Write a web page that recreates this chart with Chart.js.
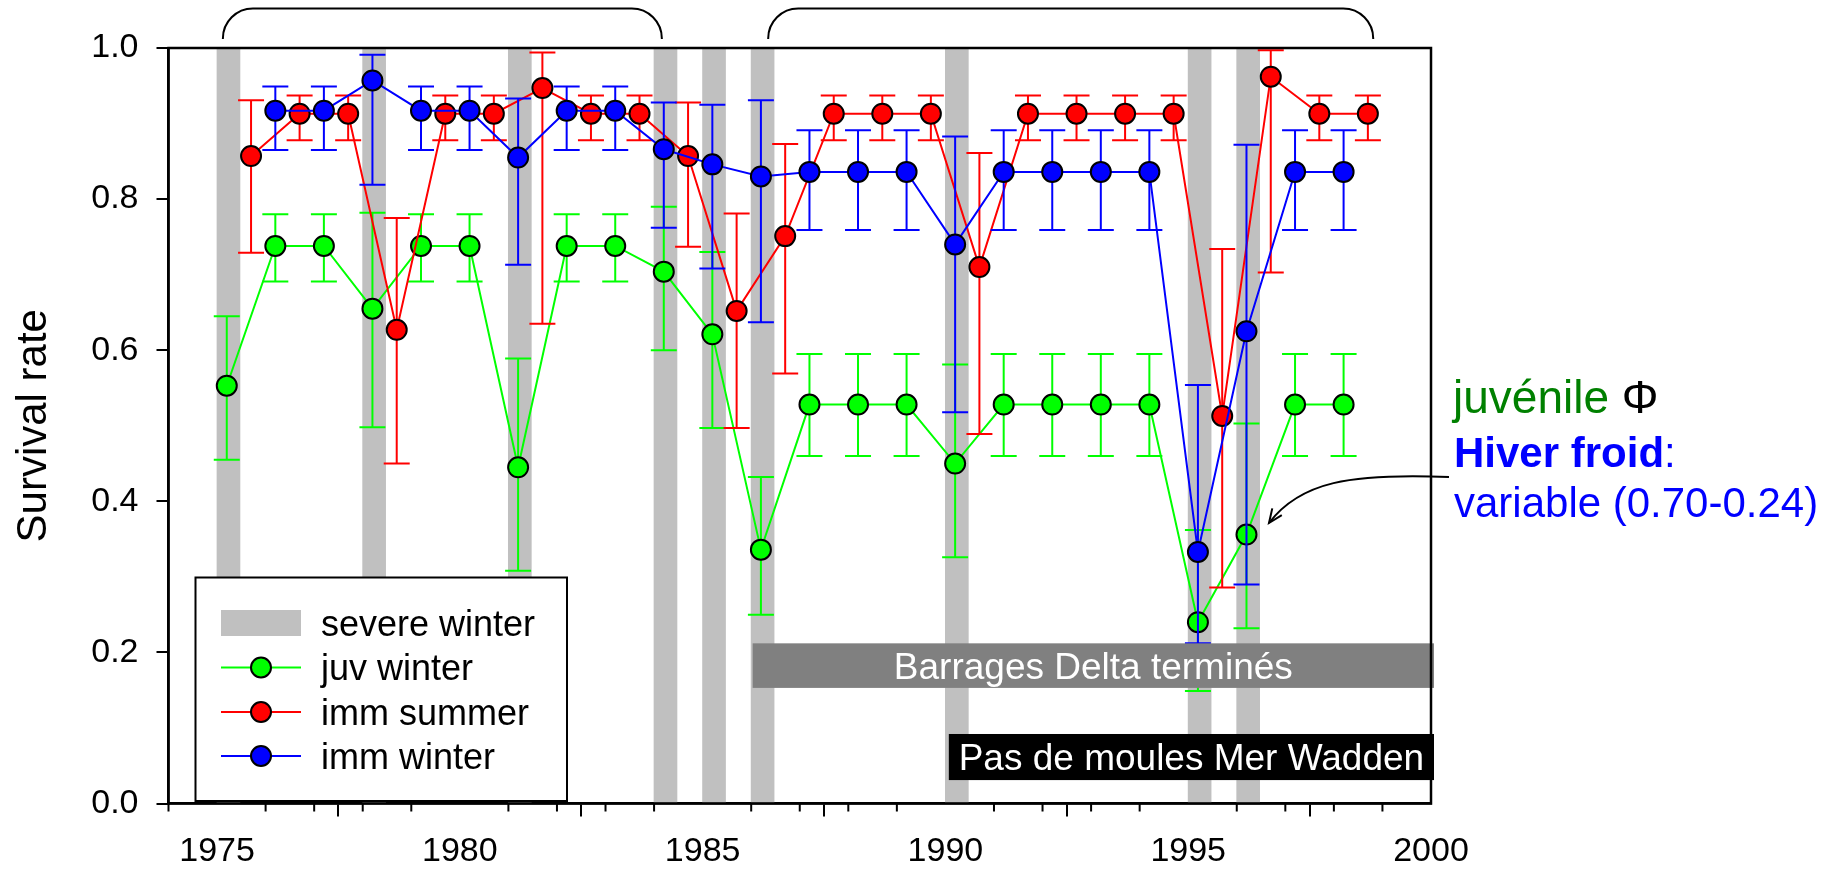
<!DOCTYPE html>
<html lang="fr">
<head>
  <meta charset="UTF-8">
  <title>Survival rate</title>
  <script src="https://cdn.jsdelivr.net/npm/chart.js"></script>
  <style>
   html, body { margin: 0; padding: 0; background: #fff; overflow: hidden; }
   #wrap { width: 1838px; height: 879px; }
  </style>
</head>
<body>
  <div id="wrap"><canvas id="myChart" width="1838" height="879"></canvas></div>
  <script>
    // --- data ---
    const juvYears = [1975.2, 1976.2, 1977.2, 1978.2, 1979.2, 1980.2, 1981.2, 1982.2, 1983.2, 1984.2, 1985.2, 1986.2,
                      1987.2, 1988.2, 1989.2, 1990.2, 1991.2, 1992.2, 1993.2, 1994.2, 1995.2, 1996.2, 1997.2, 1998.2];
    const juvWinter   = [0.553, 0.738, 0.738, 0.655, 0.738, 0.738, 0.445, 0.738, 0.738, 0.704, 0.621, 0.336,
                         0.528, 0.528, 0.528, 0.450, 0.528, 0.528, 0.528, 0.528, 0.240, 0.356, 0.528, 0.528];
    const juvWinterHi = [0.645, 0.780, 0.780, 0.782, 0.780, 0.780, 0.589, 0.780, 0.780, 0.790, 0.730, 0.432,
                         0.595, 0.595, 0.595, 0.581, 0.595, 0.595, 0.595, 0.595, 0.362, 0.503, 0.595, 0.595];
    const juvWinterLo = [0.455, 0.691, 0.691, 0.498, 0.691, 0.691, 0.308, 0.691, 0.691, 0.600, 0.497, 0.250,
                         0.460, 0.460, 0.460, 0.326, 0.460, 0.460, 0.460, 0.460, 0.149, 0.232, 0.460, 0.460];

    const summerYears = [1975.7, 1976.7, 1977.7, 1978.7, 1979.7, 1980.7, 1981.7, 1982.7, 1983.7, 1984.7, 1985.7, 1986.7,
                         1987.7, 1988.7, 1989.7, 1990.7, 1991.7, 1992.7, 1993.7, 1994.7, 1995.7, 1996.7, 1997.7, 1998.7];
    const immSummer   = [0.857, 0.913, 0.913, 0.627, 0.913, 0.913, 0.947, 0.913, 0.913, 0.857, 0.652, 0.751,
                         0.913, 0.913, 0.913, 0.710, 0.913, 0.913, 0.913, 0.913, 0.513, 0.962, 0.913, 0.913];
    const immSummerHi = [0.931, 0.937, 0.937, 0.775, 0.937, 0.937, 0.994, 0.937, 0.937, 0.928, 0.781, 0.873,
                         0.937, 0.937, 0.937, 0.861, 0.937, 0.937, 0.937, 0.937, 0.734, 0.997, 0.937, 0.937];
    const immSummerLo = [0.729, 0.878, 0.878, 0.450, 0.878, 0.878, 0.635, 0.878, 0.878, 0.737, 0.497, 0.569,
                         0.878, 0.878, 0.878, 0.489, 0.878, 0.878, 0.878, 0.878, 0.286, 0.703, 0.878, 0.878];

    const immWinYears = [1976.2, 1977.2, 1978.2, 1979.2, 1980.2, 1981.2, 1982.2, 1983.2, 1984.2, 1985.2, 1986.2,
                         1987.2, 1988.2, 1989.2, 1990.2, 1991.2, 1992.2, 1993.2, 1994.2, 1995.2, 1996.2, 1997.2, 1998.2];
    const immWinter   = [0.917, 0.917, 0.957, 0.917, 0.917, 0.855, 0.917, 0.917, 0.866, 0.846, 0.830,
                         0.836, 0.836, 0.836, 0.740, 0.836, 0.836, 0.836, 0.836, 0.333, 0.625, 0.836, 0.836];
    const immWinterHi = [0.949, 0.949, 0.991, 0.949, 0.949, 0.933, 0.949, 0.949, 0.928, 0.925, 0.931,
                         0.891, 0.891, 0.891, 0.883, 0.891, 0.891, 0.891, 0.891, 0.554, 0.872, 0.891, 0.891];
    const immWinterLo = [0.865, 0.865, 0.819, 0.865, 0.865, 0.713, 0.865, 0.865, 0.762, 0.708, 0.637,
                         0.759, 0.759, 0.759, 0.518, 0.759, 0.759, 0.759, 0.759, 0.212, 0.290, 0.759, 0.759];

    const severeWinters = [1975, 1978, 1981, 1984, 1985, 1986, 1990, 1995, 1996];
    const xTicks = [1975, 1980, 1985, 1990, 1995, 2000];
    const yTicks = [0.0, 0.2, 0.4, 0.6, 0.8, 1.0];

    // --- look ---
    const FONT = "'Liberation Sans', Arial, sans-serif";
    const GREEN = '#00ff00', RED = '#ff0000', BLUE = '#0000ff', WINTER = '#c0c0c0';

    function pts(xs, ys) { return xs.map((x, i) => ({ x: x, y: ys[i] })); }

    // error bars, drawn under each series' own line and symbols
    const errorBars = {
      id: 'errorBars',
      beforeDatasetDraw(chart, args) {
        const ds = chart.data.datasets[args.index];
        if (!ds.hi) return;
        const xs = chart.scales.x, ys = chart.scales.y, c = chart.ctx;
        c.save(); c.strokeStyle = ds.borderColor; c.lineWidth = 2;
        ds.data.forEach((p, i) => {
          const px = xs.getPixelForValue(p.x), t = ys.getPixelForValue(ds.hi[i]), b = ys.getPixelForValue(ds.lo[i]);
          c.beginPath();
          c.moveTo(px, t); c.lineTo(px, b);
          c.moveTo(px - 13, t); c.lineTo(px + 13, t);
          c.moveTo(px - 13, b); c.lineTo(px + 13, b);
          c.stroke();
        });
        c.restore();
      }
    };

    // labelled boxes, legend, frame, braces, side notes
    const extras = {
      id: 'extras',
      afterDatasetsDraw(chart) {
        const c = chart.ctx, xs = chart.scales.x, ys = chart.scales.y, a = chart.chartArea;
        function box(x0, v0, v1, fill, text) {
          const l = xs.getPixelForValue(x0), r = a.right + 3, t = ys.getPixelForValue(v0), b = ys.getPixelForValue(v1);
          c.fillStyle = fill; c.fillRect(l, t, r - l, b - t);
          c.fillStyle = '#fff'; c.font = '37px ' + FONT; c.textAlign = 'center'; c.textBaseline = 'alphabetic';
          c.fillText(text, (l + r) / 2, (t + b) / 2 + 13);
        }
        c.save();
        box(1986.03, 0.212, 0.153, '#808080', 'Barrages Delta terminés');
        box(1990.07, 0.092, 0.031, '#000000', 'Pas de moules Mer Wadden');

        // legend
        const L = { l: 195.5, t: 577.5, r: 567, b: 801 };
        c.fillStyle = '#fff'; c.fillRect(L.l, L.t, L.r - L.l, L.b - L.t);
        c.strokeStyle = '#000'; c.lineWidth = 2; c.strokeRect(L.l, L.t, L.r - L.l, L.b - L.t);
        const rows = [623, 667.5, 712, 756];
        c.fillStyle = WINTER; c.fillRect(221, rows[0] - 13, 80, 26);
        chart.data.datasets.slice(1).forEach((ds, i) => {
          const yy = rows[i + 1];
          c.strokeStyle = ds.borderColor; c.lineWidth = 2;
          c.beginPath(); c.moveTo(221, yy); c.lineTo(301, yy); c.stroke();
          c.beginPath(); c.arc(261, yy, 10, 0, Math.PI * 2);
          c.fillStyle = ds.borderColor; c.fill(); c.strokeStyle = '#000'; c.stroke();
        });
        c.fillStyle = '#000'; c.font = '36px ' + FONT; c.textAlign = 'left'; c.textBaseline = 'alphabetic';
        chart.data.datasets.forEach((ds, i) => c.fillText(ds.label, 321, rows[i] + 12.5));
        c.restore();
      },
      afterDraw(chart) {
        const c = chart.ctx, xs = chart.scales.x, a = chart.chartArea;
        c.save();
        // frame
        c.strokeStyle = '#000'; c.lineWidth = 2.5;
        c.strokeRect(a.left, a.top, a.right - a.left, a.bottom - a.top);
        // minor year ticks
        c.lineWidth = 2;
        c.beginPath();
        for (let yr = 1974; yr <= 2000; yr++) {
          if (yr % 5 === 0) continue;
          const px = xs.getPixelForValue(yr);
          c.moveTo(px, a.bottom); c.lineTo(px, a.bottom + 8);
        }
        c.stroke();
        // braces above the plot
        c.lineWidth = 2;
        [[1975.12, 1984.16], [1986.35, 1998.81]].forEach(([y0, y1]) => {
          const l = xs.getPixelForValue(y0), r = xs.getPixelForValue(y1), lo = a.top - 9, hi = 8.5;
          c.beginPath(); c.moveTo(l, lo);
          c.arcTo(l, hi, l + 30, hi, 30);
          c.arcTo(r, hi, r, lo, 30);
          c.lineTo(r, lo); c.stroke();
        });
        // side notes
        c.textAlign = 'left'; c.textBaseline = 'alphabetic';
        c.font = '46px ' + FONT; c.fillStyle = '#008000';
        c.fillText('juvénile', 1453, 413);
        const w1 = c.measureText('juvénile ').width;
        c.fillStyle = '#000'; c.fillText('Φ', 1453 + w1, 413);
        c.font = 'bold 42px ' + FONT; c.fillStyle = BLUE;
        c.fillText('Hiver froid', 1454, 467);
        const w2 = c.measureText('Hiver froid').width;
        c.font = '42px ' + FONT; c.fillText(':', 1454 + w2, 467);
        c.fillText('variable (0.70-0.24)', 1454, 517);
        // curved arrow to the 1996 juvenile point
        c.strokeStyle = '#000'; c.lineWidth = 2;
        c.beginPath(); c.moveTo(1449, 477);
        c.bezierCurveTo(1350, 473, 1300, 482, 1269, 523); c.stroke();
        const ang = Math.atan2(523 - 495, 1269 - 1289);
        c.beginPath();
        c.moveTo(1269 - 15 * Math.cos(ang - 0.4), 523 - 15 * Math.sin(ang - 0.4));
        c.lineTo(1269, 523);
        c.lineTo(1269 - 15 * Math.cos(ang + 0.4), 523 - 15 * Math.sin(ang + 0.4));
        c.stroke();
        c.restore();
      }
    };

    const ctx = document.getElementById('myChart').getContext('2d');
    const myChart = new Chart(ctx, {
      type: 'line',
      data: {
        datasets: [
          { type: 'bar', label: 'severe winter', order: 10,
            data: severeWinters.map(v => ({ x: v + 0.235, y: [0, 1] })),
            backgroundColor: WINTER, borderWidth: 0, barThickness: 23 },
          { label: 'juv winter', order: 3, data: pts(juvYears, juvWinter), hi: juvWinterHi, lo: juvWinterLo,
            borderColor: GREEN, backgroundColor: GREEN, borderWidth: 2,
            pointBackgroundColor: GREEN, pointBorderColor: '#000', pointBorderWidth: 2, pointRadius: 10 },
          { label: 'imm summer', order: 2, data: pts(summerYears, immSummer), hi: immSummerHi, lo: immSummerLo,
            borderColor: RED, backgroundColor: RED, borderWidth: 2,
            pointBackgroundColor: RED, pointBorderColor: '#000', pointBorderWidth: 2, pointRadius: 10 },
          { label: 'imm winter', order: 1, data: pts(immWinYears, immWinter), hi: immWinterHi, lo: immWinterLo,
            borderColor: BLUE, backgroundColor: BLUE, borderWidth: 2,
            pointBackgroundColor: BLUE, pointBorderColor: '#000', pointBorderWidth: 2, pointRadius: 10 }
        ]
      },
      options: {
        responsive: false, animation: false, devicePixelRatio: 1,
        layout: { padding: { left: 0, top: 48, right: 407, bottom: 0 } },
        plugins: { legend: { display: false }, tooltip: { enabled: false } },
        scales: {
          x: {
            type: 'linear', min: 1974, max: 2000, offset: false,
            afterBuildTicks: s => { s.ticks = xTicks.map(v => ({ value: v })); },
            afterFit: s => { s.height = 75.5; },
            grid: { drawOnChartArea: false, drawTicks: true, tickLength: 13, color: '#000', lineWidth: 2 },
            border: { display: true, color: '#000', width: 2.5 },
            ticks: { color: '#000', padding: 15, maxRotation: 0, font: { family: FONT, size: 34 },
                     callback: v => String(v) }
          },
          y: {
            min: 0, max: 1,
            afterBuildTicks: s => { s.ticks = yTicks.map(v => ({ value: v })); },
            afterFit: s => { s.width = 168.5; },
            grid: { drawOnChartArea: false, drawTicks: true, tickLength: 12, color: '#000', lineWidth: 2 },
            border: { display: true, color: '#000', width: 2.5 },
            ticks: { color: '#000', padding: 18, font: { family: FONT, size: 34 }, callback: v => v.toFixed(1) },
            title: { display: true, text: 'Survival rate', color: '#000', padding: { top: 9, bottom: 0 },
                     font: { family: FONT, size: 42 } }
          }
        }
      },
      plugins: [errorBars, extras]
    });
  </script>
</body>
</html>
